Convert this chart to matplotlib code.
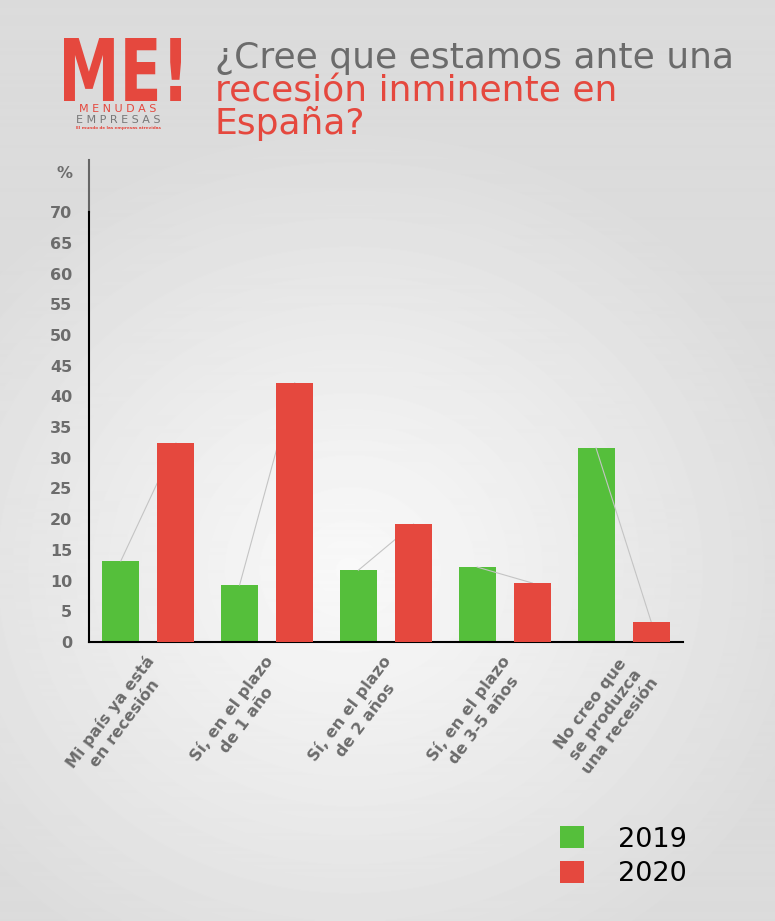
import numpy as np
import matplotlib.pyplot as plt
from matplotlib.textpath import TextPath
from matplotlib.patches import PathPatch
from matplotlib.font_manager import FontProperties
from matplotlib.transforms import Affine2D, ScaledTranslation, blended_transform_factory

# data
categories = ["Mi país ya está\nen recesión",
              "Sí, en el plazo\nde 1 año",
              "Sí, en el plazo\nde 2 años",
              "Sí, en el plazo\nde 3-5 años",
              "No creo que\nse produzca\nuna recesión"]
years = ["2019", "2020"]
v2019 = [13.2, 9.3, 11.7, 12.2, 31.6]
v2020 = [32.4, 42.2, 19.2, 9.6, 3.3]
yticks = list(range(0, 75, 5))

green = '#55bf3b'
red = '#e5483e'
grey = '#6c6c6c'

W, H = 775, 921
fig = plt.figure(figsize=(W / 100, H / 100), dpi=100)

# radial grey background
bg = fig.add_axes([0, 0, 1, 1], zorder=-10)
yy, xx = np.mgrid[0:H, 0:W]
r = np.sqrt(((xx - 350) / 480) ** 2 + ((yy - 570) / 440) ** 2)
r = np.clip(r, 0, 1)
shade = 0.975 - (0.975 - 0.862) * r ** 1.1
bg.imshow(shade, cmap='gray', vmin=0, vmax=1, aspect='auto', extent=[0, 1, 0, 1])
bg.axis('off')

# main chart
ax = fig.add_axes([89 / W, 279 / H, 594 / W, 482 / H])
ax.patch.set_alpha(0)
x = np.arange(len(categories))
w = 0.312
off = 0.232
b1 = ax.bar(x - off, v2019, w, color=green, zorder=2, label=years[0])
b2 = ax.bar(x + off, v2020, w, color=red, zorder=4, label=years[1])
for i in range(len(x)):
    ax.plot([x[i] - off, x[i] + off], [v2019[i], v2020[i]], color='#c4c4c4', lw=0.8, zorder=3)

ax.set_xlim(-0.5, 4.5)
ax.set_ylim(0, 78.5)
ax.set_yticks(yticks)
ax.tick_params(axis='y', length=0, pad=12, labelsize=11.5, labelcolor=grey)
for t in ax.get_yticklabels():
    t.set_fontweight('bold')

ax.set_xticks(x)
ax.set_xticklabels(categories, rotation=53, ha='right', va='top', rotation_mode='anchor',
                   multialignment='center', linespacing=1.3, fontsize=11.5,
                   fontweight='bold', color=grey)
ax.tick_params(axis='x', length=0, pad=8)
shift = ScaledTranslation(-4 / 100, 0, fig.dpi_scale_trans)
for t in ax.get_xticklabels():
    t.set_transform(t.get_transform() + shift)

for s in ['top', 'right']:
    ax.spines[s].set_visible(False)
ax.spines['left'].set_bounds(0, 70)
ax.spines['left'].set_linewidth(1.5)
ax.spines['bottom'].set_linewidth(1.5)
ax.axvline(-0.5, ymin=70 / 78.5, ymax=1, color='#666666', lw=1.5, clip_on=False)

trans = blended_transform_factory(ax.transAxes, ax.transData)
ax.annotate('%', xy=(0, 76.3), xycoords=trans, xytext=(-12, 0), textcoords='offset points',
            ha='right', va='center', fontsize=11.5, fontweight='bold', color=grey)

# legend
ax.legend(handles=[b1, b2], loc='upper left', bbox_to_anchor=(560 / W, 1 - 826 / H),
          bbox_transform=fig.transFigure, frameon=False, fontsize=19.5,
          handlelength=0.9, handleheight=0.9, handletextpad=1.25, labelspacing=0.3,
          borderpad=0, borderaxespad=0)

# title
fig.text(215 / W, 1 - 68 / H, '¿Cree que estamos ante una', fontsize=26, color='#6b6b6b', va='baseline')
fig.text(215 / W, 1 - 101 / H, 'recesión inminente en', fontsize=26, color=red, va='baseline')
fig.text(215 / W, 1 - 134 / H, 'España?', fontsize=26, color=red, va='baseline')

# logo
tp = TextPath((0, 0), 'ME!', size=1, prop=FontProperties(family='DejaVu Sans', weight='bold'))
bb = tp.get_extents()
x0, x1 = 64 / W, 181 / W
y0, y1 = 1 - 101 / H, 1 - 38 / H
tr = Affine2D().translate(-bb.x0, -bb.y0).scale((x1 - x0) / bb.width, (y1 - y0) / bb.height) \
    .translate(x0, y0) + fig.transFigure
fig.add_artist(PathPatch(tp, transform=tr, color=red, lw=0))
fig.text(118 / W, 1 - 109 / H, 'M E N U D A S', ha='center', va='center', fontsize=8, color=red)
fig.text(118 / W, 1 - 120 / H, 'E M P R E S A S', ha='center', va='center', fontsize=8, color='#777777')
fig.text(118 / W, 1 - 128 / H, 'El mundo de las empresas atrevidas', ha='center', va='center',
         fontsize=3, color=red, fontweight='bold')

fig.savefig('out.png', dpi=100)
